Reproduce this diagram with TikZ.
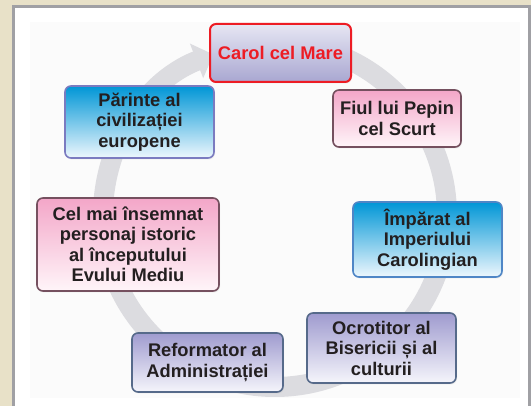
\documentclass[tikz,border=0pt]{standalone}
\usepackage{fontspec}
\setmainfont{Liberation Sans}
\usetikzlibrary{arrows.meta,shadows}
\definecolor{beigebg}{RGB}{232,225,200}
\definecolor{framegray}{RGB}{160,160,164}
\definecolor{ringgray}{RGB}{220,220,224}
\definecolor{txt}{RGB}{35,31,32}
\definecolor{carolred}{RGB}{237,28,36}
\definecolor{caroltop}{RGB}{230,230,243}
\definecolor{carolbot}{RGB}{169,167,209}
\definecolor{bluetop}{RGB}{0,150,214}
\definecolor{bluebot}{RGB}{238,247,253}
\definecolor{blueedgeA}{RGB}{123,123,192}
\definecolor{blueedgeB}{RGB}{79,134,198}
\definecolor{pinktop}{RGB}{243,166,200}
\definecolor{pinkbot}{RGB}{255,245,249}
\definecolor{pinkedge}{RGB}{117,80,95}
\definecolor{lavtop}{RGB}{159,155,207}
\definecolor{lavbot}{RGB}{245,245,251}
\definecolor{lavedge}{RGB}{86,106,138}
\tikzset{
  box/.style={rectangle, rounded corners=6pt, line width=1.6pt, align=center,
    inner sep=0pt, text=txt, font=\bfseries\fontsize{18.3}{20.5}\selectfont,
    drop shadow={opacity=0.12, shadow xshift=1pt, shadow yshift=-1.5pt}},
  carolbox/.style={box, draw=carolred, top color=caroltop, bottom color=carolbot, text=carolred, line width=2pt},
  bluebox/.style={box, top color=bluetop, bottom color=bluebot},
  pinkbox/.style={box, draw=pinkedge, top color=pinktop, bottom color=pinkbot},
  lavbox/.style={box, draw=lavedge, top color=lavtop, bottom color=lavbot},
}
\begin{document}
\begin{tikzpicture}[x=1pt,y=-1pt]
\useasboundingbox (0,0) rectangle (531,406);
\fill[beigebg] (0,0) rectangle (531,406);
\fill[white] (13.5,6.5) rectangle (529.5,420);
\draw[framegray, line width=3pt] (13.5,420) -- (13.5,6.5) -- (529.5,6.5) -- (529.5,420);
\fill[black!1.5] (30,22) rectangle (520,398);
% circular arrow
\coordinate (c) at (275,215);
\draw[ringgray, line width=20pt, -{Triangle[length=18pt, width=36pt]}]
  ([shift={(-95:172)}]c) arc[start angle=-95, end angle=249, radius=172];
% boxes
\node[carolbox, minimum width=141pt, minimum height=58pt] (carol) at (280.5,53) {Carol cel Mare};
\node[bluebox, draw=blueedgeA, minimum width=149pt, minimum height=72pt] (parinte) at (139.5,122) {Părinte al\\civilizației\\europene};
\node[pinkbox, minimum width=128pt, minimum height=57pt] (fiul) at (397,118.5) {Fiul lui Pepin\\cel Scurt};
\node[pinkbox, minimum width=182pt, minimum height=93pt] (celmai) at (128,244.5) {Cel mai însemnat\\personaj istoric\\al începutului\\Evului Mediu};
\node[bluebox, draw=blueedgeB, minimum width=149pt, minimum height=75pt] (imparat) at (427.5,239.5) {Împărat al\\Imperiului\\Carolingian};
\node[lavbox, minimum width=151pt, minimum height=59pt] (reformator) at (207.5,362.5) {Reformator al\\Administrației};
\node[lavbox, minimum width=149pt, minimum height=70pt] (ocrotitor) at (381.5,348) {Ocrotitor al\\Bisericii și al\\culturii};
\end{tikzpicture}
\end{document}
